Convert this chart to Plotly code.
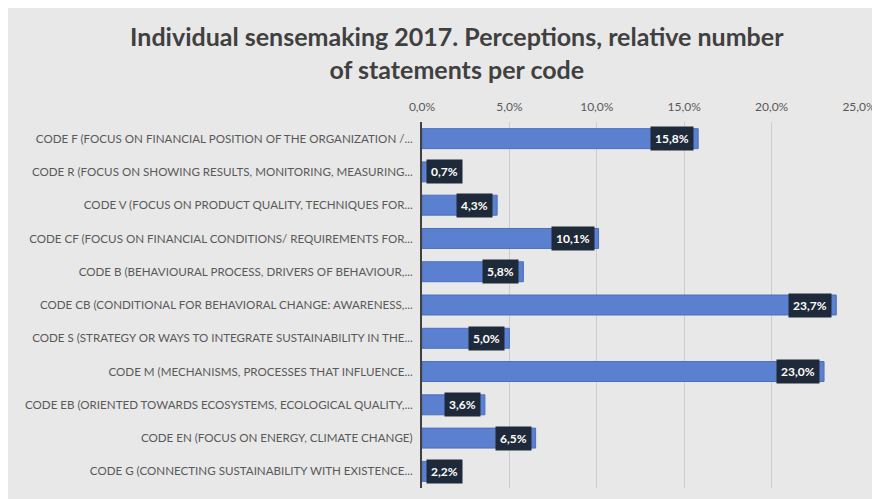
import plotly.graph_objects as go

categories = [
    "CODE F (FOCUS ON FINANCIAL POSITION OF THE ORGANIZATION /...",
    "CODE R (FOCUS ON SHOWING RESULTS, MONITORING, MEASURING...",
    "CODE V (FOCUS ON PRODUCT QUALITY, TECHNIQUES FOR...",
    "CODE CF (FOCUS ON FINANCIAL CONDITIONS/ REQUIREMENTS FOR...",
    "CODE B (BEHAVIOURAL PROCESS, DRIVERS OF BEHAVIOUR,...",
    "CODE CB (CONDITIONAL FOR BEHAVIORAL CHANGE: AWARENESS,...",
    "CODE S (STRATEGY OR WAYS TO INTEGRATE SUSTAINABILITY IN THE...",
    "CODE M (MECHANISMS, PROCESSES THAT INFLUENCE...",
    "CODE EB (ORIENTED TOWARDS ECOSYSTEMS, ECOLOGICAL QUALITY,...",
    "CODE EN (FOCUS ON ENERGY, CLIMATE CHANGE)",
    "CODE G (CONNECTING SUSTAINABILITY WITH EXISTENCE...",
]
values = [15.8, 0.7, 4.3, 10.1, 5.8, 23.7, 5.0, 23.0, 3.6, 6.5, 2.2]
tick_vals = [0, 5, 10, 15, 20, 25]
tick_text = ["0,0%", "5,0%", "10,0%", "15,0%", "20,0%", "25,0%"]
value_labels = [f"{v:.1f}%".replace(".", ",") for v in values]

FONT = "Lato, Open Sans, sans-serif"

fig = go.Figure()
fig.add_trace(go.Bar(
    y=categories, x=values, orientation="h",
    marker=dict(color="#5a80cf", line=dict(color="#4a6fc0", width=1)),
    width=0.6, hoverinfo="skip",
))

for c, v, t in zip(categories, values, value_labels):
    short = v < 3
    fig.add_annotation(
        x=0 if short else v, y=c, xref="x", yref="y", text=f"<b>{t}</b>",
        xanchor="left" if short else "right", yanchor="middle", showarrow=False,
        xshift=4 if short else -4,
        bgcolor="#1e2a3a", borderpad=4,
        font=dict(family=FONT, size=12, color="white"),
    )

fig.update_layout(
    width=880, height=499,
    margin=dict(l=414, r=26, t=114, b=19),
    paper_bgcolor="#e8e8e8", plot_bgcolor="#e8e8e8",
    title=dict(
        text="<b>Individual sensemaking 2017. Perceptions, relative number<br>of statements per code</b>",
        x=0.51, xanchor="center", y=0.923, yanchor="top",
        font=dict(family=FONT, size=25, color="#404040"),
    ),
    showlegend=False,
    bargap=0.4,
)
fig.update_xaxes(
    range=[0, 25], side="top", tickvals=tick_vals, ticktext=tick_text,
    showgrid=True, gridcolor="#cccccc", gridwidth=1, zeroline=False,
    tickfont=dict(family=FONT, size=12, color="#595959"),
    ticks="", ticklabelstandoff=8, fixedrange=True,
)
fig.update_yaxes(
    autorange="reversed", showline=True, linecolor="#404040", linewidth=2,
    tickfont=dict(family=FONT, size=11.6, color="#595959"),
    ticks="", ticklabelstandoff=5, fixedrange=True,
)

fig.write_html(
    "out.html",
    config={"displayModeBar": False},
    post_script="document.body.style.overflow='hidden';",
)
